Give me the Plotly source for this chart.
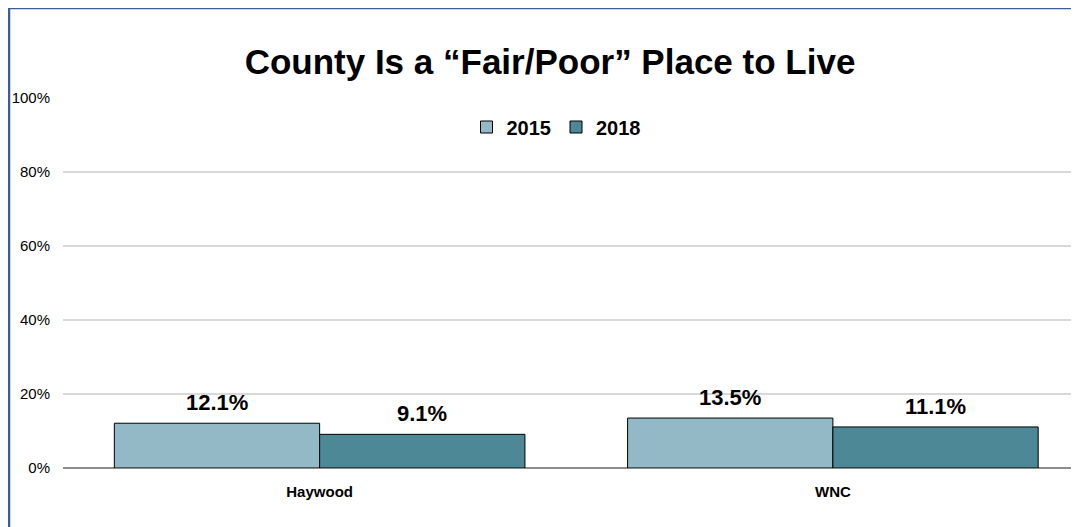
import plotly.graph_objects as go

categories = ["Haywood", "WNC"]
years = ["2015", "2018"]
values_2015 = [12.1, 13.5]
values_2018 = [9.1, 11.1]
y_ticks = [0, 20, 40, 60, 80, 100]
y_tick_labels = ["0%", "20%", "40%", "60%", "80%", "100%"]

colors = {"2015": "#93B9C7", "2018": "#4D8897"}

# page renders figure at an 8px body offset
OFF = 8
PAGE_W, PAGE_H = 1079, 527
W, H = PAGE_W - OFF, PAGE_H - OFF
plot_left, plot_top, plot_bottom = 63, 98, 468   # page pixels
L, T = plot_left - OFF, plot_top - OFF
B = H - (plot_bottom - OFF)
R = 0
pw, ph = W - L - R, H - T - B
x_range = [-0.5, 1 + (PAGE_W - 833) / 513]
px_per_unit = pw / (x_range[1] - x_range[0])

def px_x(x):  # page pixel -> paper
    return (x - OFF - L) / pw

def px_y(y):
    return 1 - (y - OFF - T) / ph

narrow = "Liberation Sans Narrow, Arial Narrow, Liberation Sans, Arial"

fig = go.Figure()
series = [values_2015, values_2018]
for yr, vals in zip(years, series):
    fig.add_trace(go.Bar(
        x=categories, y=vals, name=yr,
        marker=dict(color=colors[yr], line=dict(color="#000000", width=1)),
        cliponaxis=False,
    ))

# data labels above each bar (bars are 0.4 category units wide, offset +-0.2)
for i, vals in enumerate(series):
    shift = (-0.2 if i == 0 else 0.2) * px_per_unit
    for cat, v in zip(categories, vals):
        fig.add_annotation(x=cat, y=v, xref="x", yref="y", text=f"{v:.1f}%",
                           showarrow=False, xshift=shift, yshift=6, yanchor="bottom",
                           font=dict(family=narrow, size=22, color="#000000", weight="bold"))

fig.update_layout(
    width=W, height=H,
    margin=dict(l=L, r=R, t=T, b=B),
    paper_bgcolor="white", plot_bgcolor="white",
    barmode="group", bargap=0.2, bargroupgap=0,
    title=dict(text="County Is a “Fair/Poor” Place to Live",
               x=px_x(550), xref="paper", xanchor="center",
               y=1 - (62 - OFF) / H, yanchor="middle",
               font=dict(family="Liberation Sans, Arial", size=35, color="#000000", weight="bold")),
    legend=dict(orientation="h", x=px_x(556), xanchor="center", y=px_y(127), yanchor="middle",
                font=dict(family=narrow, size=20, color="#000000", weight="bold"),
                itemwidth=30, traceorder="normal", bgcolor="rgba(0,0,0,0)"),
    xaxis=dict(range=x_range, showgrid=False, showline=False,
               tickfont=dict(family=narrow, size=15, color="#000000", weight="bold"),
               ticks="", ticklabelstandoff=13),
    yaxis=dict(range=[0, 100], tickvals=y_ticks, ticktext=y_tick_labels,
               showgrid=True, gridcolor="#D9D9D9", gridwidth=1.5,
               zeroline=True, zerolinecolor="#8C8C8C", zerolinewidth=1.5,
               showline=False, ticks="",
               tickfont=dict(family="Liberation Sans, Arial", size=15, color="#000000"),
               ticklabelstandoff=12),
    font=dict(family="Liberation Sans, Arial"),
    showlegend=True,
)

fig.add_shape(type="line", xref="paper", yref="paper",
              x0=px_x(9), x1=px_x(9), y0=px_y(PAGE_H + 5), y1=px_y(8),
              line=dict(color="#3A5E98", width=2.5))
fig.add_shape(type="line", xref="paper", yref="paper",
              x0=px_x(8), x1=px_x(PAGE_W + 5), y0=px_y(8), y1=px_y(8),
              line=dict(color="#3A5E98", width=2.5))

fig.write_html("out.html")
